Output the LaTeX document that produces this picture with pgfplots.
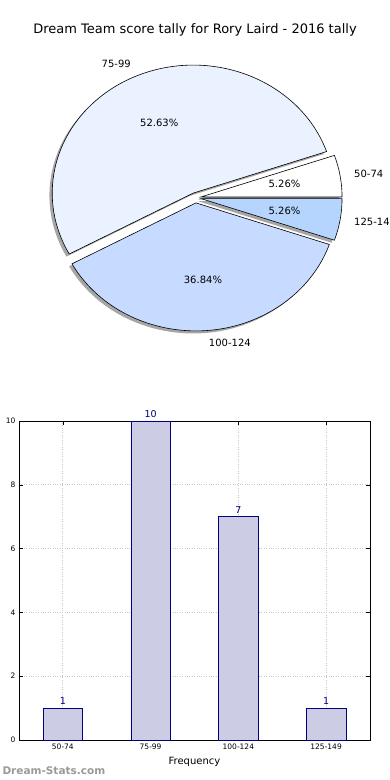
\documentclass[border=0pt]{standalone}
\usepackage{fontspec}
\setmainfont{DejaVu Sans}
\usepackage{pgfplots}
\pgfplotsset{compat=1.18}
\definecolor{wA}{HTML}{FFFFFF}
\definecolor{wB}{HTML}{EAF1FF}
\definecolor{wC}{HTML}{C6DBFF}
\definecolor{wD}{HTML}{B5D5FF}
\definecolor{barfill}{HTML}{CCCCE5}
\definecolor{navy}{HTML}{000080}

% counts per score range
\def\nA{1}\def\nB{10}\def\nC{7}\def\nD{1}
\pgfmathsetmacro\tot{\nA+\nB+\nC+\nD}
\pgfmathsetmacro\sA{0}
\pgfmathsetmacro\eA{360*\nA/\tot}
\pgfmathsetmacro\sB{\eA}
\pgfmathsetmacro\eB{\sB+360*\nB/\tot}
\pgfmathsetmacro\sC{\eB}
\pgfmathsetmacro\eC{\sC+360*\nC/\tot}
\pgfmathsetmacro\sD{\eC}
\pgfmathsetmacro\eD{360}
\def\expl{0.04}
\pgfmathsetmacro\mA{(\sA+\eA)/2}\pgfmathsetmacro\oxA{\expl*cos(\mA)}\pgfmathsetmacro\oyA{\expl*sin(\mA)}
\pgfmathsetmacro\mB{(\sB+\eB)/2}\pgfmathsetmacro\oxB{\expl*cos(\mB)}\pgfmathsetmacro\oyB{\expl*sin(\mB)}
\pgfmathsetmacro\mC{(\sC+\eC)/2}\pgfmathsetmacro\oxC{\expl*cos(\mC)}\pgfmathsetmacro\oyC{\expl*sin(\mC)}
\pgfmathsetmacro\mD{(\sD+\eD)/2}\pgfmathsetmacro\oxD{\expl*cos(\mD)}\pgfmathsetmacro\oyD{\expl*sin(\mD)}
% pie radii on the page (axis width / 2.4, height / 2.4)
\def\rx{141pt}\def\ry{128pt}

\newcommand\wedgepath[3]{(axis cs:{\csname ox#1\endcsname+#2},{\csname oy#1\endcsname+#3}) -- (axis cs:{\csname ox#1\endcsname+#2+cos(\csname s#1\endcsname)},{\csname oy#1\endcsname+#3+sin(\csname s#1\endcsname)}) arc[start angle=\csname s#1\endcsname, end angle=\csname e#1\endcsname, x radius=\rx, y radius=\ry] -- cycle}

\begin{document}
\begin{tikzpicture}
\path[use as bounding box] (0pt,0pt) rectangle (390pt,780pt);
\node[font=\fontsize{13}{15}\selectfont] at (195pt,750pt) {Dream Team score tally for Rory Laird - 2016 tally};

\begin{axis}[at={(26.3pt,428.6pt)}, anchor=south west, scale only axis,
  width=338.4pt, height=307.2pt,
  xmin=-1.2, xmax=1.2, ymin=-1.2, ymax=1.2,
  hide axis, clip=false]
  % shadows
  \fill[black, opacity=0.35] \wedgepath{A}{-0.02}{-0.02};
  \fill[black, opacity=0.35] \wedgepath{B}{-0.02}{-0.02};
  \fill[black, opacity=0.35] \wedgepath{C}{-0.02}{-0.02};
  \fill[black, opacity=0.35] \wedgepath{D}{-0.02}{-0.02};
  % wedges
  \filldraw[fill=wA, draw=black, line width=0.6pt] \wedgepath{A}{0}{0};
  \filldraw[fill=wB, draw=black, line width=0.6pt] \wedgepath{B}{0}{0};
  \filldraw[fill=wC, draw=black, line width=0.6pt] \wedgepath{C}{0}{0};
  \filldraw[fill=wD, draw=black, line width=0.6pt] \wedgepath{D}{0}{0};
  % labels
  \node[anchor=west, inner sep=0pt, font=\fontsize{10}{12}\selectfont] at (axis cs:{\oxA+1.1*cos(\mA)},{\oyA+1.1*sin(\mA)}) {50-74};
  \node[anchor=east, inner sep=0pt, font=\fontsize{10}{12}\selectfont] at (axis cs:{\oxB+1.1*cos(\mB)},{\oyB+1.1*sin(\mB)}) {75-99};
  \node[anchor=west, inner sep=0pt, font=\fontsize{10}{12}\selectfont] at (axis cs:{\oxC+1.1*cos(\mC)},{\oyC+1.1*sin(\mC)}) {100-124};
  \node[anchor=west, inner sep=0pt, font=\fontsize{10}{12}\selectfont] at (axis cs:{\oxD+1.1*cos(\mD)},{\oyD+1.1*sin(\mD)}) {125-149};
  \node[font=\fontsize{10}{12}\selectfont] at (axis cs:{\oxA+0.6*cos(\mA)},{\oyA+0.6*sin(\mA)}) {5.26\%};
  \node[font=\fontsize{10}{12}\selectfont] at (axis cs:{\oxB+0.6*cos(\mB)},{\oyB+0.6*sin(\mB)}) {52.63\%};
  \node[font=\fontsize{10}{12}\selectfont] at (axis cs:{\oxC+0.6*cos(\mC)},{\oyC+0.6*sin(\mC)}) {36.84\%};
  \node[font=\fontsize{10}{12}\selectfont] at (axis cs:{\oxD+0.6*cos(\mD)},{\oyD+0.6*sin(\mD)}) {5.26\%};
\end{axis}

\begin{axis}[at={(19pt,40pt)}, anchor=south west, scale only axis,
  width=351pt, height=319pt,
  xmin=-0.5, xmax=3.5, ymin=0, ymax=10,
  xtick={0,1,2,3}, xticklabels={50-74,75-99,100-124,125-149},
  ytick={0,2,4,6,8,10},
  tick pos=both, tick align=inside, major tick length=4pt,
  tick style={black, line width=0.5pt},
  grid=major, major grid style={black!22, dotted, line width=0.8pt},
  axis line style={line width=0.8pt},
  ticklabel style={font=\fontsize{7.5}{9}\selectfont},
  /pgf/number format/assume math mode=true,
  xlabel={Frequency}, xlabel style={font=\fontsize{10}{12}\selectfont, yshift=-1pt},
  ylabel={Number of Games}, ylabel style={font=\fontsize{10}{12}\selectfont,
    at={(axis description cs:-0.052,0.5)}, anchor=south},
  ]
  \addplot[ybar, bar width=0.45, fill=barfill, draw=navy, line width=0.7pt,
    nodes near coords, nodes near coords style={text=navy, font=\fontsize{9.5}{11}\selectfont}]
    coordinates {(0,1) (1,10) (2,7) (3,1)};
\end{axis}

\node[anchor=west, font=\bfseries\fontsize{10.5}{12}\selectfont, text=black!40] at (-1pt,9pt) {Dream-Stats.com};
\end{tikzpicture}
\end{document}
